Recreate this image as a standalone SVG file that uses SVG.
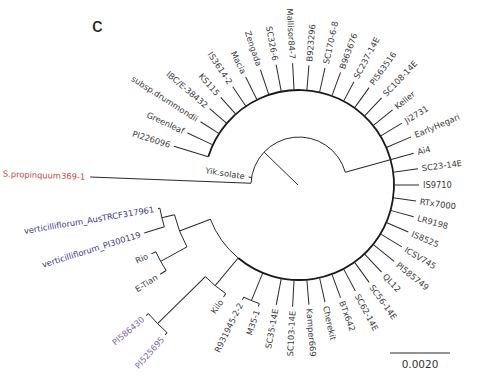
<svg xmlns="http://www.w3.org/2000/svg" width="478" height="384" viewBox="0 0 478 384">
<style>
.br{stroke:#2a2a2a;stroke-width:1;fill:none}
.th{stroke:#1a1a1a;stroke-width:1.8;fill:none}
text{font-family:"DejaVu Sans","Liberation Sans",sans-serif;font-size:8.3px;fill:#3a3a3a;dominant-baseline:central}
.e{text-anchor:end}
.red{fill:#c24a3e}
.blue{fill:#3c3c8c}
.pur{fill:#8466ad}
.ttl{font-family:"Liberation Sans",Arial,sans-serif;font-size:21px;fill:#222;dominant-baseline:auto}
.sc{font-size:10.5px;text-anchor:middle;fill:#333}
</style>
<rect width="478" height="384" fill="#fff"/>
<g id="connectors">
<path class="th" d="M208.27,156.83 A95,95 0 1 1 238.19,257.99"/>
<path class="br" d="M238.19,257.99 A95,95 0 0 1 210.37,219.2"/>
<path class="br" d="M251.04,183.16 A48,48 0 0 1 345.25,172.17"/>
<line class="br" x1="298" y1="185" x2="264.06" y2="152.09"/>
<path class="br" transform="rotate(182.2 299 185)" d="M347,185H508"/>
<path class="br" transform="rotate(189 299 185)" d="M347,185H350"/>
<path class="br" transform="rotate(-15.5 299 185)" d="M347,185H418"/>
<path class="br" transform="rotate(-162.75 299 185)" d="M394,185H430"/>
<path class="br" transform="rotate(-155 299 185)" d="M394,185H422"/>
<path class="br" transform="rotate(-147.25 299 185)" d="M394,185H416"/>
<path class="br" transform="rotate(-139.5 299 185)" d="M394,185H416.5"/>
<path class="br" transform="rotate(-131.75 299 185)" d="M394,185H416.5"/>
<path class="br" transform="rotate(-124 299 185)" d="M394,185H417.5"/>
<path class="br" transform="rotate(-116.25 299 185)" d="M394,185H419.5"/>
<path class="br" transform="rotate(-108.5 299 185)" d="M394,185H420.5"/>
<path class="br" transform="rotate(-100.75 299 185)" d="M394,185H421.5"/>
<path class="br" transform="rotate(-93 299 185)" d="M394,185H421"/>
<path class="br" transform="rotate(-85.25 299 185)" d="M394,185H419"/>
<path class="br" transform="rotate(-77.5 299 185)" d="M394,185H419"/>
<path class="br" transform="rotate(-69.75 299 185)" d="M394,185H419"/>
<path class="br" transform="rotate(-62 299 185)" d="M394,185H416"/>
<path class="br" transform="rotate(-54.25 299 185)" d="M394,185H419"/>
<path class="br" transform="rotate(-46.5 299 185)" d="M394,185H419"/>
<path class="br" transform="rotate(-38.75 299 185)" d="M394,185H419"/>
<path class="br" transform="rotate(-31 299 185)" d="M394,185H419"/>
<path class="br" transform="rotate(-23.25 299 185)" d="M394,185H421"/>
<path class="br" transform="rotate(-7.75 299 185)" d="M394,185H419"/>
<path class="br" transform="rotate(0 299 185)" d="M394,185H419"/>
<path class="br" transform="rotate(7.75 299 185)" d="M394,185H417"/>
<path class="br" transform="rotate(15.5 299 185)" d="M394,185H418"/>
<path class="br" transform="rotate(23.25 299 185)" d="M394,185H418"/>
<path class="br" transform="rotate(31 299 185)" d="M394,185H419"/>
<path class="br" transform="rotate(38.75 299 185)" d="M394,185H421"/>
<path class="br" transform="rotate(46.5 299 185)" d="M394,185H419"/>
<path class="br" transform="rotate(54.25 299 185)" d="M394,185H419"/>
<path class="br" transform="rotate(62 299 185)" d="M394,185H419"/>
<path class="br" transform="rotate(69.75 299 185)" d="M394,185H419"/>
<path class="br" transform="rotate(77.5 299 185)" d="M394,185H419"/>
<path class="br" transform="rotate(85.25 299 185)" d="M394,185H419"/>
<path class="br" transform="rotate(93 299 185)" d="M394,185H421"/>
<path class="br" transform="rotate(100.75 299 185)" d="M394,185H421"/>
<path class="br" transform="rotate(112.4 299 185)" d="M394,185H424"/>
<path class="br" d="M259.34,303.54 A125,125 0 0 1 243.71,297.11"/>
<path class="br" transform="rotate(108.5 299 185)" d="M424,185H427"/>
<path class="br" transform="rotate(116.25 299 185)" d="M424,185H427"/>
<path class="br" transform="rotate(129.8 299 185)" d="M394,185H430"/>
<path class="br" d="M225.75,293.6 A131,131 0 0 1 205.4,276.66"/>
<path class="br" transform="rotate(124 299 185)" d="M430,185H434"/>
<path class="br" transform="rotate(135.6 299 185)" d="M430,185H497"/>
<path class="br" d="M167.16,332.72 A198,198 0 0 1 148.44,313.59"/>
<path class="br" transform="rotate(131.75 299 185)" d="M497,185H500"/>
<path class="br" transform="rotate(139.5 299 185)" d="M497,185H500"/>
<path class="br" transform="rotate(158.9 299 185)" d="M394,185H427"/>
<path class="br" d="M186.93,246.86 A128,128 0 0 1 174.48,214.66"/>
<path class="br" transform="rotate(166.6 299 185)" d="M427,185H440"/>
<path class="br" d="M164.34,226.81 A141,141 0 0 1 159.93,208.27"/>
<path class="br" transform="rotate(162.75 299 185)" d="M440,185H461"/>
<path class="br" transform="rotate(170.5 299 185)" d="M440,185H442"/>
<path class="br" transform="rotate(151.1 299 185)" d="M427,185H457"/>
<path class="br" d="M166.12,270.47 A158,158 0 0 1 155.8,251.77"/>
<path class="br" transform="rotate(155 299 185)" d="M457,185H462"/>
<path class="br" transform="rotate(147.25 299 185)" d="M457,185H464"/>
<line class="br" x1="390" y1="353" x2="450" y2="353"/>
</g>
<g id="title"><text class="ttl" x="92" y="32">c</text></g>
<g id="n-PI226096" transform="rotate(-162.75 299 185)"><text class="e" x="434" y="185" transform="rotate(180 434 185)">PI226096</text></g>
<g id="n-Greenleaf" transform="rotate(-155 299 185)"><text class="e" x="426" y="185" transform="rotate(180 426 185)">Greenleaf</text></g>
<g id="n-drummondii" transform="rotate(-147.25 299 185)"><text class="e" x="420" y="185" transform="rotate(180 420 185)">subsp.drummondii</text></g>
<g id="n-IBC" transform="rotate(-139.5 299 185)"><text class="e" x="420.5" y="185" transform="rotate(180 420.5 185)">IBC/E-38432</text></g>
<g id="n-KS115" transform="rotate(-131.75 299 185)"><text class="e" x="420.5" y="185" transform="rotate(180 420.5 185)">KS115</text></g>
<g id="n-IS3614-2" transform="rotate(-124 299 185)"><text class="e" x="421.5" y="185" transform="rotate(180 421.5 185)">IS3614-2</text></g>
<g id="n-Macia" transform="rotate(-116.25 299 185)"><text class="e" x="423.5" y="185" transform="rotate(180 423.5 185)">Macia</text></g>
<g id="n-Zengada" transform="rotate(-108.5 299 185)"><text class="e" x="424.5" y="185" transform="rotate(180 424.5 185)">Zengada</text></g>
<g id="n-SC326-6" transform="rotate(-100.75 299 185)"><text class="e" x="425.5" y="185" transform="rotate(180 425.5 185)">SC326-6</text></g>
<g id="n-Mallisor84-7" transform="rotate(-93 299 185)"><text class="e" x="425" y="185" transform="rotate(180 425 185)">Mallisor84-7</text></g>
<g id="n-B923296" transform="rotate(-85.25 299 185)"><text x="423" y="185">B923296</text></g>
<g id="n-SC170-6-8" transform="rotate(-77.5 299 185)"><text x="423" y="185">SC170-6-8</text></g>
<g id="n-B963676" transform="rotate(-69.75 299 185)"><text x="423" y="185">B963676</text></g>
<g id="n-SC237-14E" transform="rotate(-62 299 185)"><text x="420" y="185">SC237-14E</text></g>
<g id="n-PI563516" transform="rotate(-54.25 299 185)"><text x="423" y="185">PI563516</text></g>
<g id="n-SC108-14E" transform="rotate(-46.5 299 185)"><text x="423" y="185">SC108-14E</text></g>
<g id="n-Keller" transform="rotate(-38.75 299 185)"><text x="423" y="185">Keller</text></g>
<g id="n-Ji2731" transform="rotate(-31 299 185)"><text x="423" y="185">Ji2731</text></g>
<g id="n-EarlyHegari" transform="rotate(-23.25 299 185)"><text x="425" y="185">EarlyHegari</text></g>
<g id="n-Ai4" transform="rotate(-15.5 299 185)"><text x="422" y="185">Ai4</text></g>
<g id="n-SC23-14E" transform="rotate(-7.75 299 185)"><text x="423" y="185">SC23-14E</text></g>
<g id="n-IS9710" transform="rotate(0 299 185)"><text x="423" y="185">IS9710</text></g>
<g id="n-RTx7000" transform="rotate(7.75 299 185)"><text x="421" y="185">RTx7000</text></g>
<g id="n-LR9198" transform="rotate(15.5 299 185)"><text x="422" y="185">LR9198</text></g>
<g id="n-IS8525" transform="rotate(23.25 299 185)"><text x="422" y="185">IS8525</text></g>
<g id="n-ICSV745" transform="rotate(31 299 185)"><text x="423" y="185">ICSV745</text></g>
<g id="n-PI585749" transform="rotate(38.75 299 185)"><text x="425" y="185">PI585749</text></g>
<g id="n-QL12" transform="rotate(46.5 299 185)"><text x="423" y="185">QL12</text></g>
<g id="n-SC56-14E" transform="rotate(54.25 299 185)"><text x="423" y="185">SC56-14E</text></g>
<g id="n-SC62-14E" transform="rotate(62 299 185)"><text x="423" y="185">SC62-14E</text></g>
<g id="n-BTx642" transform="rotate(69.75 299 185)"><text x="423" y="185">BTx642</text></g>
<g id="n-Cherekit" transform="rotate(77.5 299 185)"><text x="423" y="185">Cherekit</text></g>
<g id="n-Kamper669" transform="rotate(85.25 299 185)"><text x="423" y="185">Kamper669</text></g>
<g id="n-SC103-14E" transform="rotate(93 299 185)"><text class="e" x="425" y="185" transform="rotate(180 425 185)">SC103-14E</text></g>
<g id="n-SC35-14E" transform="rotate(100.75 299 185)"><text class="e" x="425" y="185" transform="rotate(180 425 185)">SC35-14E</text></g>
<g id="n-M35-1" transform="rotate(108.5 299 185)"><text class="e" x="431" y="185" transform="rotate(180 431 185)">M35-1</text></g>
<g id="n-R931945-2-2" transform="rotate(116.25 299 185)"><text class="e" x="431" y="185" transform="rotate(180 431 185)">R931945-2-2</text></g>
<g id="n-Kilo" transform="rotate(124 299 185)"><text class="e" x="438" y="185" transform="rotate(180 438 185)">Kilo</text></g>
<g id="n-PI525695" transform="rotate(131.75 299 185)"><text class="e pur" x="504" y="185" transform="rotate(180 504 185)">PI525695</text></g>
<g id="n-PI586430" transform="rotate(139.5 299 185)"><text class="e pur" x="504" y="185" transform="rotate(180 504 185)">PI586430</text></g>
<g id="n-E-Tian" transform="rotate(147.25 299 185)"><text class="e" x="468" y="185" transform="rotate(180 468 185)">E-Tian</text></g>
<g id="n-Rio" transform="rotate(155 299 185)"><text class="e" x="466" y="185" transform="rotate(180 466 185)">Rio</text></g>
<g id="n-PI300119" transform="rotate(162.75 299 185)"><text class="e blue" x="465" y="185" transform="rotate(180 465 185)">verticilliflorum_PI300119</text></g>
<g id="n-AusTRCF317961" transform="rotate(170.5 299 185)"><text class="e blue" x="446" y="185" transform="rotate(180 446 185)">verticilliflorum_AusTRCF317961</text></g>
<g id="n-propinquum" transform="rotate(182.2 299 185)"><text class="e red" x="513" y="185" transform="rotate(180 513 185)">S.propinquum369-1</text></g>
<g id="n-Yik" transform="rotate(189 299 185)"><text class="e" x="354" y="185" transform="rotate(180 354 185)">Yik.solate</text></g>
<g id="scale"><text class="sc" x="420" y="364">0.0020</text></g>
</svg>
